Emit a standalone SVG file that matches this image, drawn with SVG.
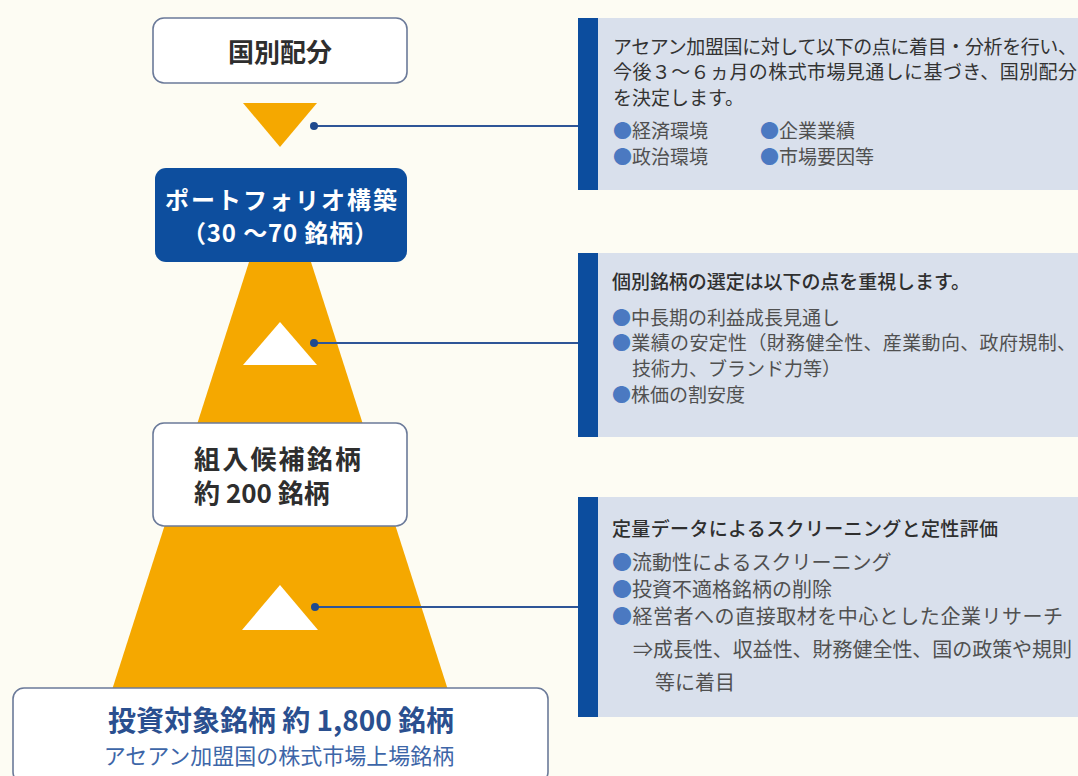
<svg xmlns="http://www.w3.org/2000/svg" width="1078" height="776" viewBox="0 0 1078 776">
<style>
text{font-family:"Noto Sans CJK JP","Noto Sans",sans-serif}
.box{fill:#ffffff;stroke:#6B7A99;stroke-width:1.6}
.nt{font-size:26px;font-weight:700;fill:#2e2e2e}
.wt{font-size:24px;font-weight:700;fill:#ffffff}
.pan{fill:#D9E0EC}
.bar{fill:#0C4D9E}
.tx{font-size:19px;fill:#333333}
.hd{font-size:19px;fill:#2f2f2f;font-weight:500}
.bd{font-size:19px;fill:#505050}
.bd3{font-size:20px;fill:#505050}
.bu{fill:#4B79C1}
.con{stroke:#2E5597;stroke-width:2;fill:none}
.dot{fill:#1F4A8E}
</style>
<rect width="1078" height="776" fill="#FDFCF3"/>
<g id="pyramid">
<polygon points="249,262 311,262 448,690 112,690" fill="#F5A800"/>
<polygon points="243,103 317,103 280,147" fill="#F5A800"/>
<polygon points="280,322 243,365 317,365" fill="#ffffff"/>
<polygon points="280,585 242,630 318,630" fill="#ffffff"/>
</g>
<g id="node-kokubetsu">
<rect class="box" x="153" y="18" width="254" height="65" rx="11"/>
<text class="nt" x="280" y="62" text-anchor="middle">国別配分</text>
</g>
<g id="node-portfolio">
<rect x="155" y="168" width="252" height="94" rx="11" fill="#0D4E9E"/>
<text class="wt" x="165" y="209" textLength="232">ポートフォリオ構築</text>
<text class="wt" x="182" y="242" textLength="196">（30 ～70 銘柄）</text>
</g>
<g id="node-candidates">
<rect class="box" x="153" y="423" width="254" height="103" rx="11"/>
<text class="nt" x="194" y="469" textLength="167">組入候補銘柄</text>
<text class="nt" x="194" y="503">約 200 銘柄</text>
</g>
<g id="node-universe">
<rect class="box" x="13" y="688" width="535" height="95" rx="11"/>
<text x="281" y="731" text-anchor="middle" font-size="28" font-weight="700" fill="#2A4F8F">投資対象銘柄 約 1,800 銘柄</text>
<text x="279" y="764" text-anchor="middle" font-size="22" fill="#3D66A8">アセアン加盟国の株式市場上場銘柄</text>
</g>
<g id="note-1">
<rect class="pan" x="578" y="18" width="500" height="172"/>
<rect class="bar" x="578" y="18" width="20" height="172"/>
<text class="tx" x="613" y="54" textLength="464">アセアン加盟国に対して以下の点に着目・分析を行い、</text>
<text class="tx" x="613" y="79" textLength="464">今後３～６ヵ月の株式市場見通しに基づき、国別配分</text>
<text class="tx" x="613" y="105">を決定します。</text>
<text class="bd" x="613" y="138"><tspan class="bu">●</tspan>経済環境</text>
<text class="bd" x="760" y="138"><tspan class="bu">●</tspan>企業業績</text>
<text class="bd" x="613" y="164"><tspan class="bu">●</tspan>政治環境</text>
<text class="bd" x="760" y="164"><tspan class="bu">●</tspan>市場要因等</text>
</g>
<g id="note-2">
<rect class="pan" x="578" y="253" width="500" height="184"/>
<rect class="bar" x="578" y="253" width="20" height="184"/>
<text class="hd" x="612" y="289" textLength="358">個別銘柄の選定は以下の点を重視します。</text>
<text class="bd" x="612" y="325"><tspan class="bu">●</tspan>中長期の利益成長見通し</text>
<text class="bd" x="612" y="350" textLength="464"><tspan class="bu">●</tspan>業績の安定性（財務健全性、産業動向、政府規制、</text>
<text class="bd" x="632" y="376">技術力、ブランド力等）</text>
<text class="bd" x="612" y="402"><tspan class="bu">●</tspan>株価の割安度</text>
</g>
<g id="note-3">
<rect class="pan" x="578" y="497" width="500" height="220"/>
<rect class="bar" x="578" y="497" width="20" height="220"/>
<text class="hd" x="612" y="536" textLength="386">定量データによるスクリーニングと定性評価</text>
<text class="bd3" x="612" y="570"><tspan class="bu">●</tspan>流動性によるスクリーニング</text>
<text class="bd3" x="612" y="597"><tspan class="bu">●</tspan>投資不適格銘柄の削除</text>
<text class="bd3" x="612" y="624" textLength="451"><tspan class="bu">●</tspan>経営者への直接取材を中心とした企業リサーチ</text>
<text class="bd3" x="633" y="657" textLength="439">⇒成長性、収益性、財務健全性、国の政策や規則</text>
<text class="bd3" x="655" y="690">等に着目</text>
</g>
<g id="connectors">
<line class="con" x1="314" y1="126" x2="578" y2="126"/>
<circle class="dot" cx="314" cy="126" r="4"/>
<line class="con" x1="314" y1="343" x2="578" y2="343"/>
<circle class="dot" cx="314" cy="343" r="4"/>
<line class="con" x1="315" y1="607" x2="578" y2="607"/>
<circle class="dot" cx="315" cy="607" r="4"/>
</g>
</svg>
